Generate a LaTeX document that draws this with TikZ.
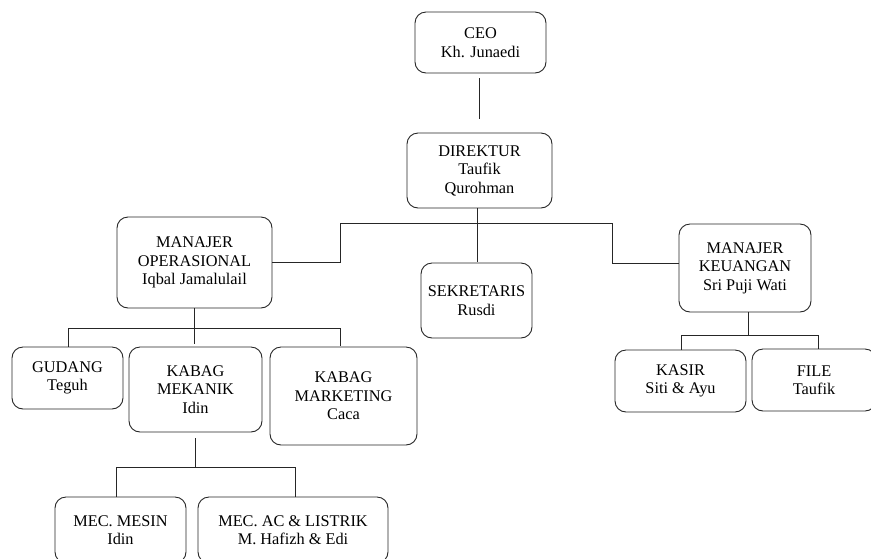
\documentclass[tikz,border=0pt]{standalone}
\usepackage{fontspec}
\setmainfont{Liberation Serif}
\begin{document}
\begin{tikzpicture}[x=1pt,y=-1pt,
  box/.style={draw=black!85, line width=0.9pt, rounded corners=11pt, align=center,
    inner sep=0pt, font=\fontsize{16.3}{18.5}\selectfont},
  conn/.style={draw=black!85, line width=0.9pt}]
\useasboundingbox (0,0) rectangle (871,558);
% boxes
\node[box, minimum width=131pt, minimum height=61pt] (ceo) at (480.5,42.5) {CEO\\Kh. Junaedi};
\node[box, minimum width=145pt, minimum height=75pt] (dir) at (479.5,170.5) {DIREKTUR\\Taufik\\Qurohman};
\node[box, minimum width=155pt, minimum height=91pt] (mo) at (194.5,262.5) {MANAJER\\OPERASIONAL\\Iqbal Jamalulail};
\node[box, minimum width=111pt, minimum height=75pt] (sek) at (476.5,300.5) {SEKRETARIS\\Rusdi};
\node[box, minimum width=132pt, minimum height=88pt] (mk) at (745,268) {MANAJER\\KEUANGAN\\Sri Puji Wati};
\node[box, minimum width=111pt, minimum height=62pt] (gud) at (67.5,378) {GUDANG\\Teguh};
\node[box, minimum width=133pt, minimum height=85pt] (kmek) at (195.5,389.5) {KABAG\\MEKANIK\\Idin};
\node[box, minimum width=147pt, minimum height=98pt] (kmar) at (343.5,396) {KABAG\\MARKETING\\Caca};
\node[box, minimum width=131pt, minimum height=62pt] (kas) at (680.5,381) {KASIR\\Siti \& Ayu};
\node[box, minimum width=124pt, minimum height=62pt] (file) at (814,380) {FILE\\Taufik};
\node[box, minimum width=131pt, minimum height=66pt] (mes) at (120.5,530) {MEC. MESIN\\Idin};
\node[box, minimum width=190pt, minimum height=66pt] (ac) at (293,530) {MEC. AC \& LISTRIK\\M. Hafizh \& Edi};
% junction coordinates
\coordinate (vc) at (479,0);
\coordinate (vd) at (477,0);
\coordinate (hl) at (340,223);
\coordinate (hr) at (612,223);
\coordinate (ml) at (68,328);
\coordinate (mr) at (340,328);
\coordinate (kl) at (116,467);
\coordinate (kr) at (295,467);
\coordinate (fl) at (681,335);
\coordinate (fr) at (818,335);
\coordinate (fm) at (748,335);
% connectors
\draw[conn] ([yshift=-5pt]ceo.south -| vc) -- ([yshift=14pt]dir.north -| vc);
\draw[conn] (dir.south -| vd) -- ([yshift=1pt]sek.north -| vd);
\draw[conn] (mo.east) -- (mo.east -| hl) -- (hl) -- (hr) -- ([yshift=5pt]mk.west -| hr) -- ([yshift=5pt]mk.west);
\draw[conn] (mo.south) -- ([yshift=3pt]mo.south |- kmek.north);
\draw[conn] (gud.north -| ml) -- (ml) -- (mr) -- ([yshift=1pt]kmar.north -| mr);
\draw[conn] ([yshift=-6pt]kmek.south) -- (kmek.south |- kl);
\draw[conn] (mes.north -| kl) -- (kl) -- (kr) -- (ac.north -| kr);
\draw[conn] (mk.south -| fm) -- (fm);
\draw[conn] (kas.north -| fl) -- (fl) -- (fr) -- (file.north -| fr);
\end{tikzpicture}
\end{document}
